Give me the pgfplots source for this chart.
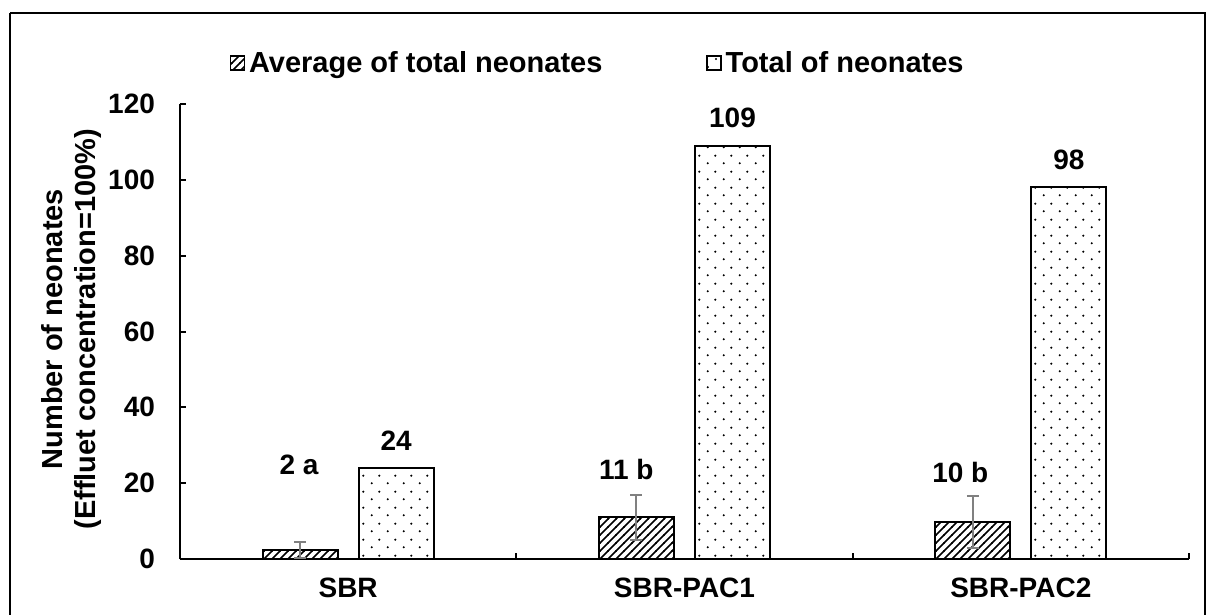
\documentclass[border=0pt]{standalone}
\usepackage{fontspec}
\setmainfont{Liberation Sans}
\usepackage{pgfplots}
\pgfplotsset{compat=1.18}
\usetikzlibrary{patterns}
\pgfdeclarepatternformonly{mydots}{\pgfpointorigin}{\pgfqpoint{8pt}{8pt}}{\pgfqpoint{8pt}{8pt}}{%
  \pgfpathcircle{\pgfqpoint{2pt}{2pt}}{0.6pt}%
  \pgfpathcircle{\pgfqpoint{6pt}{6pt}}{0.6pt}%
  \pgfusepath{fill}}
\pgfdeclarepatternformonly{myhatch}{\pgfqpoint{-1pt}{-1pt}}{\pgfqpoint{5pt}{5pt}}{\pgfqpoint{4pt}{4pt}}{%
  \pgfsetlinewidth{0.75pt}%
  \pgfpathmoveto{\pgfqpoint{-0.2pt}{-0.2pt}}%
  \pgfpathlineto{\pgfqpoint{4.2pt}{4.2pt}}%
  \pgfusepath{stroke}}
\newcommand{\lf}{\bfseries\fontsize{14}{17}\selectfont}
\newcommand{\lfb}{\bfseries\fontsize{14.5}{16.5}\selectfont}
\begin{document}
\begin{tikzpicture}
\useasboundingbox (0,0) rectangle (603.5pt,-307.5pt);
\draw[line width=1pt] (5pt,-6.5pt) -- (5pt,-309pt);
\draw[line width=1pt] (5pt,-6.5pt) -- (602.5pt,-6.5pt) -- (602.5pt,-309pt);
\begin{axis}[
  at={(90pt,-279.5pt)}, anchor=south west,
  scale only axis, width=504.5pt, height=227.5pt,
  ybar=10.5pt, bar width=37.5pt,
  xmin=-0.5, xmax=2.5, ymin=0, ymax=120,
  axis lines*=left,
  axis line style={line width=1pt},
  ytick={0,20,...,120},
  xtick={-0.5,0.5,1.5,2.5}, xticklabels={},
  extra x ticks={0,1,2},
  extra x tick labels={SBR,SBR-PAC1,SBR-PAC2},
  extra x tick style={major tick length=0pt, xticklabel style={yshift=-6pt}},
  tick align=inside, major tick length=3pt,
  tick style={line width=1pt, black},
  ticklabel style={font=\lf},
  /pgf/number format/assume math mode=true,
  yticklabel style={xshift=-9pt},
  ylabel={Number of neonates\\(Effluet concentration=100\%)},
  ylabel style={font=\lfb, align=center, at={(axis description cs:-0.108,0.505)}, anchor=center},
  legend columns=2,
  legend style={draw=none, font=\lfb, at={(axis description cs:0.415,1.09)}, anchor=center,
    /tikz/every even column/.append style={column sep=50pt}},
  legend image code/.code={\draw[#1, line width=0.6pt] (0pt,-3.5pt) rectangle (7pt,3.5pt);},
  nodes near coords style={font=\lf},
]
\addplot[draw=black, line width=1pt, pattern=myhatch,
  error bars/.cd, y dir=both, y explicit,
  error bar style={line width=1pt, gray},
  error mark options={rotate=90, mark size=3pt, line width=1pt, gray}]
  coordinates {(0,2.4) +- (0,2.1) (1,11) +- (0,5.9) (2,9.7) +- (0,6.9)};
\addlegendentry{Average of total neonates}
\addplot[draw=black, line width=1pt, pattern=mydots,
  nodes near coords, every node near coord/.append style={yshift=5pt}]
  coordinates {(0,24) (1,109) (2,98)};
\addlegendentry{Total of neonates}
\node[font=\lf] at (axis cs:-0.146,24.8) {2 a};
\node[font=\lf] at (axis cs:0.827,23.5) {11 b};
\node[font=\lf] at (axis cs:1.820,22.7) {10 b};
\end{axis}
\end{tikzpicture}
\end{document}
